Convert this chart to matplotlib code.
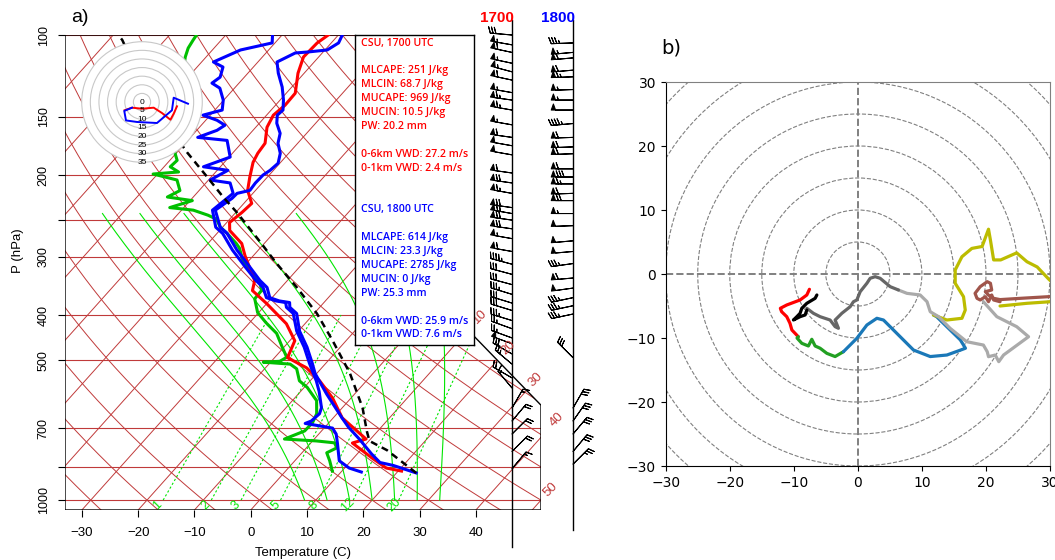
import numpy as np
import matplotlib
matplotlib.use("Agg")
import matplotlib.pyplot as plt
from matplotlib.patches import Polygon, Circle

# ---------------- data ----------------
# 1700 UTC sounding (temperature red, dewpoint green)
p_t1700 = [100, 104, 111.5, 120.8, 133.4, 141.5, 148.7, 157.9, 170.9, 179.6, 187.8, 202.3, 215.8,
           230.2, 240.7, 253, 263.2, 280.7, 298, 337.3, 354.4, 378, 417.6, 454.3, 494, 519.4, 554,
           603, 665.6, 739, 753.6, 812, 853, 866]
t_t1700 = [-61.8, -62.5, -62.7, -61.1, -58.4, -58.3, -58.8, -58.0, -55.8, -55.5, -54.9, -53.1, -51.4,
           -48.6, -48.9, -49.5, -48.2, -44.0, -41.5, -35.8, -34.6, -30.0, -23.3, -19.1, -17.7, -12.7, -8.3,
           -3.3, 1.6, 9.2, 7.4, 13.3, 17.4, 20.6]
p_td1700 = [100, 102.5, 106.7, 111.5, 125, 145, 164, 179.6, 186, 192, 197, 199, 205, 216, 223, 227,
            235, 238, 244, 249, 259, 267, 281, 287, 306, 326, 342, 354, 369, 395, 416, 438, 469, 493,
            503, 505, 510, 522, 554, 572, 611, 652, 682, 710, 739, 746, 753, 772, 791, 823, 866]
td_td1700 = [-85.2, -85, -84.6, -83.7, -80.6, -76.5, -72.9, -70.2, -68.7, -68.9, -66.6, -70.8, -65.6,
             -63.4, -64.6, -59.6, -62.5, -57.9, -54.5, -52.3, -50.4, -48.2, -44.9, -43.7, -41.0, -37.3,
             -34.4, -33.0, -32.9, -30.2, -27.0, -23.5, -20.3, -17.9, -18.5, -21.3, -16.2, -14.3, -11.9,
             -9.5, -5.7, -3.6, -2.9, -3.0, -5.3, 0.7, 4.2, 5.4, 4.4, 6.2, 8.3]
# 1800 UTC sounding (temperature and dewpoint blue)
p_t1800 = [100, 104, 107.7, 108.8, 109.3, 114.3, 120.8, 129.4, 138, 145, 148.7, 154.8, 162.7, 170.9,
           179.6, 188.7, 195.4, 200, 208, 215.8, 219, 224.5, 238, 259, 267, 290, 316, 337, 349, 367,
           373, 376, 385, 397, 433, 469, 508, 534, 591, 666, 697, 739, 795, 830, 842, 874]
t_t1800 = [-59.3, -58.7, -59.6, -62.8, -64.8, -66.6, -64.6, -61.7, -59.4, -57.9, -58.1, -56.9, -54.7,
           -53.5, -51.5, -50.3, -50.6, -51.1, -51.2, -51.0, -52.8, -52.9, -54.0, -50.4, -48.2, -43.8,
           -38.7, -34.9, -32.5, -30.4, -28.2, -26.1, -25.3, -23.1, -19.8, -15.9, -12.4, -10.3, -5.0,
           1.6, 4.2, 8.0, 12.5, 15.4, 18.2, 23.5]
p_td1800 = [100, 104, 107.7, 114.3, 117.2, 123.2, 126.9, 130.1, 138, 145, 148.7, 152.5, 156.3, 160.3,
            166, 168.5, 183, 192, 195.4, 205, 208, 219, 238, 259, 267, 290, 316, 337, 349, 367, 373,
            376, 385, 397, 433, 469, 508, 534, 554, 584, 633, 652, 676, 684, 688, 700, 721, 757, 823,
            853, 870]
td_td1800 = [-71.7, -70.5, -75.0, -77.9, -75.4, -74.3, -74.8, -72.6, -70.1, -68.7, -71.3, -68.0, -65.8,
             -66.4, -68.7, -63.0, -59.8, -63.0, -58.1, -59.7, -55.7, -53.5, -54.5, -51.2, -49.0, -44.6,
             -39.5, -35.6, -33.2, -31.0, -28.8, -26.8, -25.9, -23.7, -20.3, -16.4, -12.9, -10.6, -8.9,
             -6.7, -3.7, -3.1, -3.4, -4.1, -2.7, 1.5, 3.1, 4.9, 7.9, 10.8, 13.6]
# surface parcel path (black dashed)
p_parcel = [874, 781, 746, 711, 633, 534, 454, 397, 349, 310, 277, 240.7, 223, 202, 178.8, 138, 102.5, 100]
t_parcel = [23.5, 14.7, 10.1, 8.1, 3.6, -4.1, -12.4, -19.5, -27.2, -34.6, -41.3, -49.8, -54.7, -60.7,
            -68.2, -83.1, -97.6, -99.1]

# wind barbs (knots, direction from)
wind1700_p = [100, 105, 109, 115, 120, 125, 133, 138, 145, 156, 166, 173, 181, 198, 208, 219, 235, 242,
              250, 261, 274, 292, 311, 327, 344, 361, 377, 391, 411, 428, 448, 461, 485, 510, 546, 574,
              634, 676, 721, 786, 856]
wind1700_spd = [30, 55, 60, 55, 55, 60, 55, 65, 65, 55, 60, 50, 50, 60, 70, 65, 70, 70, 70, 70, 55, 60,
                45, 30, 30, 35, 30, 30, 35, 25, 25, 50, 30, 25, 20, 15, 15, 20, 20, 20, 15]
wind1700_dir = [275, 280, 282, 282, 285, 282, 280, 278, 280, 280, 278, 280, 280, 278, 278, 280, 278, 280,
                278, 278, 280, 280, 285, 285, 285, 287, 287, 287, 287, 290, 290, 290, 300, 310, 300, 320,
                30, 40, 45, 45, 40]
wind1800_p = [104, 109, 112, 119, 123, 131, 138, 145, 155, 166, 174, 180, 194, 202, 209, 219, 227, 242,
              257, 277, 292, 310, 333, 350, 367, 382, 398, 494, 634, 676, 721, 786, 837]
wind1800_spd = [35, 55, 60, 60, 65, 55, 55, 50, 45, 60, 60, 60, 60, 80, 65, 60, 70, 55, 50, 50, 50, 35,
                60, 50, 35, 35, 35, 30, 30, 30, 30, 30, 25]
wind1800_dir = [268, 265, 265, 265, 268, 268, 270, 270, 265, 268, 268, 268, 270, 270, 270, 268, 270, 270,
                268, 265, 265, 262, 265, 262, 258, 258, 258, 315, 30, 35, 40, 40, 45]

# small hodograph inset (m/s)
inset_red_u = [-10.1, -5.8, 0, 6.8, 11.6, 16.5, 18.4, 20.3]
inset_red_v = [-4.8, -3.3, -3.9, -3.3, -6.4, -10.3, -6.8, -2.5]
inset_blue_u = [-5.8, -10.3, -9.3, -2.9, 8.7, 17.4, 18.4, 26.7]
inset_blue_v = [-3.3, -5.2, -10.7, -11.6, -12.2, -4.8, 2.5, -1.0]

# panel b hodograph segments (m/s)
hb_red_u = [-7.56, -7.97, -9.02, -11.1, -12.1, -11.9, -11.1, -10.6, -10.3, -9.8, -9.3]
hb_red_v = [-2.39, -3.28, -4.06, -4.84, -5.36, -5.89, -6.67, -7.70, -8.75, -9.27, -9.8]
hb_green_u = [-9.3, -9.5, -8.75, -7.72, -7.19, -6.67, -5.89, -4.84, -3.55, -2.25]
hb_green_v = [-9.8, -10.0, -10.83, -11.25, -10.2, -11.25, -11.6, -12.4, -12.9, -12.14]
hb_blue_u = [-2.25, -0.16, 1.41, 2.97, 4.0, 6.61, 8.69, 11.3, 13.9, 16.0, 16.8, 16.0, 12.3, 11.8]
hb_blue_v = [-12.14, -10.05, -7.97, -6.92, -7.19, -9.8, -11.88, -12.9, -12.66, -11.9, -11.6, -10.3, -6.67, -6.4]
hb_yellow_u = [11.8, 13.9, 16.25, 16.77, 16.5, 15.2, 15.2, 16.25, 17.8, 19.4, 20.4, 20.7, 21.2, 22.3,
               24.8, 26.4, 28.0, 29.8, 31.6, 30.05, 26.4, 22.2]
hb_yellow_v = [-6.4, -7.19, -6.92, -5.63, -3.55, -1.45, 0.63, 2.7, 4.0, 4.3, 7.0, 5.3, 2.2, 2.2,
               3.3, 1.92, 1.1, -0.8, -2.5, -4.33, -4.58, -5.0]
hb_brown_u = [22.2, 21.2, 20.9, 20.4, 19.9, 19.1, 18.6, 18.3, 19.1, 20.2, 20.7, 20.9, 19.9, 20.4, 21.2,
              22.2, 25.4, 30.5]
hb_brown_v = [-4.33, -4.06, -3.28, -4.33, -3.55, -4.06, -3.8, -3.02, -1.98, -1.2, -1.45, -2.5, -2.76,
              -3.3, -3.8, -4.0, -3.8, -3.5]
hb_black_u = [-6.4, -6.67, -7.97, -8.75, -9.02, -9.53, -10.06, -9.02, -8.23, -7.97]
hb_black_v = [-3.28, -3.8, -4.58, -5.36, -6.14, -6.67, -7.19, -6.67, -6.4, -5.63]
hb_dgray_u = [-7.97, -6.94, -5.89, -4.33, -3.55, -3.03, -3.55, -2.5, -1.2, -0.69, -0.16, 0.36, 1.41,
              1.92, 2.7, 3.48, 5.05, 6.34]
hb_dgray_v = [-5.36, -6.14, -6.67, -7.19, -8.23, -8.48, -7.19, -6.14, -5.11, -4.33, -4.06, -2.77, -1.45,
              -0.67, -0.42, -0.67, -1.98, -2.5]
hb_lgray_u = [6.34, 7.66, 9.73, 10.8, 11.3, 12.6, 14.4, 17.0, 19.6, 20.2, 20.4, 21.45, 22.0, 22.75,
              26.65, 24.8, 21.7, 19.6]
hb_lgray_v = [-2.5, -3.02, -3.28, -4.33, -5.89, -6.67, -8.48, -10.58, -11.1, -12.14, -12.92, -12.66,
              -13.7, -12.66, -9.8, -8.23, -6.67, -4.33]

# text box
box_1700 = ["CSU, 1700 UTC", "", "MLCAPE: 251 J/kg", "MLCIN: 68.7 J/kg", "MUCAPE: 969 J/kg",
            "MUCIN: 10.5 J/kg", "PW: 20.2 mm", "", "0-6km VWD: 27.2 m/s", "0-1km VWD: 2.4 m/s"]
box_1800 = ["CSU, 1800 UTC", "", "MLCAPE: 614 J/kg", "MLCIN: 23.3 J/kg", "MUCAPE: 2785 J/kg",
            "MUCIN: 0 J/kg", "PW: 25.3 mm", "", "0-6km VWD: 25.9 m/s", "0-1km VWD: 7.6 m/s"]

# axis ticks / background reference lines
p_ticks = [100, 150, 200, 250, 300, 400, 500, 700, 850, 1000]
p_tick_labels = ["100", "150", "200", "", "300", "400", "500", "700", "", "1000"]
t_ticks = [-30, -20, -10, 0, 10, 20, 30, 40]
grid_p = [1050, 1000, 850, 700, 500, 400, 300, 250, 200, 150, 100]
iso_T = list(range(-120, 51, 10))
dry_theta = list(range(-40, 181, 10))
moist_t1000 = [8, 12, 16, 20, 24, 28, 32]
mixrat = [1, 2, 3, 5, 8, 12, 20]
iso_label_T = [10, 20, 30, 40, 50]
iso_label_p = [404, 471, 552, 670, 950]
inset_rings = [5, 10, 15, 20, 25, 30, 35]
hodo_rings = [5, 10, 15, 20, 25, 30, 35, 40, 45]

# ---------------- helpers ----------------
def skewty(p):
    return 132.182 - 44.061 * np.log10(np.asarray(p, dtype=float))

def skewtx(t, ty):
    return 0.54 * np.asarray(t, dtype=float) + 0.90692 * ty

def td_from_w(w, p):
    e = w * p / (622.0 + w)
    a = np.log(e / 6.112)
    return 243.5 * a / (17.67 - a)

def moist_adiabat(t1000, p_top=242.0):
    Rd, cp, Lv, eps = 287.04, 1005.7, 2.501e6, 0.622
    def f(T, p):
        tc = T - 273.15
        es = 6.112 * np.exp(17.67 * tc / (tc + 243.5))
        rs = eps * es / (p - es)
        return (Rd * T + Lv * rs) / (p * (cp + Lv ** 2 * rs * eps / (Rd * T ** 2)))
    ps = np.arange(1000.0, p_top - 0.1, -2.0)
    T = t1000 + 273.15
    out = [T]
    for i in range(1, len(ps)):
        p, dp = ps[i - 1], ps[i] - ps[i - 1]
        k1 = f(T, p); k2 = f(T + 0.5 * dp * k1, p + 0.5 * dp)
        k3 = f(T + 0.5 * dp * k2, p + 0.5 * dp); k4 = f(T + dp * k3, p + dp)
        T = T + dp * (k1 + 2 * k2 + 2 * k3 + k4) / 6
        out.append(T)
    return ps, np.array(out) - 273.15

W, H = 1055, 560
fig = plt.figure(figsize=(W / 100, H / 100), dpi=100)

def rect(x0, y0, x1, y1):
    return [x0 / W, 1 - y1 / H, (x1 - x0) / W, (y1 - y0) / H]

BROWN = '#c03a3a'
GREEN = '#00e600'
RF = 'Liberation Sans'

YMAX = skewty(1050); YMIN = skewty(100)
XMIN = skewtx(-33, YMAX); XMAX = skewtx(50, skewty(1000))
KINKX = skewtx(5, skewty(400))

def px2x(px):
    return XMIN + (px - 65) * (XMAX - XMIN) / 476.0

def py2y(py):
    return YMIN - (py - 35) * (YMIN - YMAX) / 475.0

# ---------------- panel a: skew-T ----------------
ax = fig.add_axes(rect(65, 35, 541, 510))
ax.set_xlim(XMIN, XMAX)
ax.set_ylim(YMAX, YMIN)
for s in ax.spines.values():
    s.set_visible(False)

xc = [XMIN, XMIN, XMAX, XMAX, KINKX, KINKX, XMIN]
yc = [YMIN, YMAX, YMAX, skewty(625), skewty(400), YMIN, YMIN]
outline = Polygon(np.column_stack([xc, yc]), closed=True, fill=False, ec='black', lw=1.0, zorder=3)
ax.add_patch(outline)

yy = np.array([YMAX, YMIN])
for p in grid_p:
    l, = ax.plot([XMIN, XMAX], [skewty(p)] * 2, color=BROWN, lw=0.8, zorder=1)
    l.set_clip_path(outline)
for t in iso_T:
    l, = ax.plot(skewtx(t, yy), yy, color=BROWN, lw=0.7, zorder=1)
    l.set_clip_path(outline)
pp = np.linspace(100, 1050, 200)
for th in dry_theta:
    tt = (th + 273.15) * (pp / 1000.0) ** 0.286 - 273.15
    l, = ax.plot(skewtx(tt, skewty(pp)), skewty(pp), color=BROWN, lw=0.7, zorder=1)
    l.set_clip_path(outline)
for t0 in moist_t1000:
    mp, mt = moist_adiabat(t0)
    l, = ax.plot(skewtx(mt, skewty(mp)), skewty(mp), color=GREEN, lw=0.8, zorder=1)
    l.set_clip_path(outline)
for w in mixrat:
    y1, y2 = skewty(1000), skewty(400)
    l, = ax.plot([skewtx(td_from_w(w, 1000), y1), skewtx(td_from_w(w, 400), y2)], [y1, y2],
                 color=GREEN, lw=0.8, ls=(0, (2, 2)), zorder=1)
    l.set_clip_path(outline)
    yl = skewty(1025)
    ax.text(skewtx(td_from_w(w, 1025), yl) - 0.25, yl, str(w), color=GREEN, fontsize=9,
            rotation=45, ha='center', va='center', family=RF)

for t, p in zip(iso_label_T, iso_label_p):
    yl = skewty(p)
    ax.text(skewtx(t, yl), yl, str(t), color=BROWN, fontsize=9.5, rotation=45,
            ha='center', va='center', family=RF, clip_on=False, zorder=6)

# soundings
def plot_snd(p, t, **kw):
    y = skewty(p)
    ax.plot(skewtx(t, y), y, zorder=4, solid_joinstyle='round', **kw)

plot_snd(p_td1700, td_td1700, color='#00c000', lw=2.2)
plot_snd(p_t1700, t_t1700, color='red', lw=2.2)
plot_snd(p_td1800, td_td1800, color='#0000ff', lw=2.2)
plot_snd(p_t1800, t_t1800, color='#0000ff', lw=2.2)
plot_snd(p_parcel, t_parcel, color='black', lw=1.8, dashes=(2.8, 2.0))

# axes ticks
ax.set_yticks(skewty(p_ticks))
ax.set_yticklabels(p_tick_labels, rotation=90, va='center', family=RF, fontsize=9)
ax.set_xticks(skewtx(np.array(t_ticks), YMAX))
ax.set_xticklabels([str(t).replace('-', '\u2212') for t in t_ticks], family=RF, fontsize=9.5)
ax.tick_params(axis='y', length=5, width=0.8, pad=6)
ax.tick_params(axis='x', length=5, width=0.8, pad=7)
fig.text(303 / W, 1 - 553 / H, 'Temperature (C)', ha='center', va='center', family=RF, fontsize=9.5)
fig.text(18 / W, 1 - 251 / H, 'P (hPa)', ha='center', va='center', rotation=90, family=RF, fontsize=9.5)

# wind staffs and barbs
for spx, top, bot in [(512, 20, 547), (573, 20, 530)]:
    ax.plot([px2x(spx)] * 2, [py2y(top), py2y(bot)], color='black', lw=1.0, clip_on=False, zorder=5)

def draw_barbs(spx, p, spd, d):
    p = np.array(p, float); spd = np.array(spd, float); d = np.radians(np.array(d, float))
    u = -spd * np.sin(d); v = -spd * np.cos(d)
    b = ax.barbs(np.full(len(p), px2x(spx)), skewty(p), u, v, length=5.6, pivot='tip',
                 sizes=dict(spacing=0.13, height=0.28, width=0.2, emptybarb=0.0),
                 barbcolor='black', flagcolor='black', linewidth=0.75, zorder=5)
    b.set_clip_on(False)

draw_barbs(512, wind1700_p, wind1700_spd, wind1700_dir)
draw_barbs(573, wind1800_p, wind1800_spd, wind1800_dir)

fig.text(514 / W, 1 - 18 / H, '1700', color='red', fontweight='bold', fontsize=11,
         ha='right', va='center', family=RF)
fig.text(575 / W, 1 - 18 / H, '1800', color='blue', fontweight='bold', fontsize=11,
         ha='right', va='center', family=RF)
fig.text(80 / W, 1 - 18 / H, 'a)', fontsize=14, ha='center', va='center', family=RF)

# text box
axb = fig.add_axes(rect(355, 35, 474, 345))
axb.set_xticks([]); axb.set_yticks([])
for s in axb.spines.values():
    s.set_linewidth(1.0); s.set_color('black')
axb.set_xlim(355, 474); axb.set_ylim(345, 35)
for k, line in enumerate(box_1700):
    if line:
        axb.text(361, 43 + 13.9 * k, line, color='red', fontsize=7.6, family='Open Sans',
                 fontweight='semibold', va='center', ha='left')
for k, line in enumerate(box_1800):
    if line:
        axb.text(361, 43 + 13.9 * (k + 12), line, color='blue', fontsize=7.6, family='Open Sans',
                 fontweight='semibold', va='center', ha='left')

# inset hodograph
axi = fig.add_axes(rect(142 - 62, 102 - 62, 142 + 62, 102 + 62))
axi.set_xlim(-36, 36); axi.set_ylim(-36, 36)
axi.axis('off')
axi.add_patch(Circle((0, 0), inset_rings[-1], fc='white', ec='#c8c8c8', lw=0.8, zorder=0))
for r in inset_rings[:-1]:
    axi.add_patch(Circle((0, 0), r, fill=False, ec='#c8c8c8', lw=0.8, zorder=1))
axi.plot(inset_red_u, inset_red_v, color='red', lw=1.4, zorder=2)
axi.plot(inset_blue_u, inset_blue_v, color='blue', lw=1.4, zorder=2)
for r in [0] + inset_rings:
    axi.text(0, -r, str(r), fontsize=6, ha='center', va='center', family=RF, zorder=3)

# ---------------- panel b: hodograph ----------------
axh = fig.add_axes(rect(665.7, 82, 1050, 466))
axh.set_xlim(-30, 30); axh.set_ylim(-30, 30)
for r in hodo_rings:
    axh.add_patch(Circle((0, 0), r, fill=False, ec='gray', lw=0.8, ls='--', zorder=1))
axh.axhline(0, color='gray', lw=1.4, ls='--', zorder=1)
axh.axvline(0, color='gray', lw=1.4, ls='--', zorder=1)
segs = [(hb_red_u, hb_red_v, 'red'), (hb_green_u, hb_green_v, '#22a022'),
        (hb_blue_u, hb_blue_v, '#1a78b8'), (hb_yellow_u, hb_yellow_v, '#bcbc00'),
        (hb_brown_u, hb_brown_v, '#a0554b'), (hb_lgray_u, hb_lgray_v, '#aaaaaa'),
        (hb_dgray_u, hb_dgray_v, '#666666'), (hb_black_u, hb_black_v, 'black')]
for u, v, c in segs:
    axh.plot(u, v, color=c, lw=2.3, solid_capstyle='round', solid_joinstyle='round', zorder=3)
axh.set_xticks([-30, -20, -10, 0, 10, 20, 30])
axh.set_yticks([-30, -20, -10, 0, 10, 20, 30])
axh.tick_params(labelsize=10)
axh.spines['top'].set_color('gray')
axh.spines['right'].set_color('gray')
fig.text(671 / W, 1 - 48 / H, 'b)', fontsize=14, ha='center', va='center')

fig.savefig('out.png', dpi=100)
